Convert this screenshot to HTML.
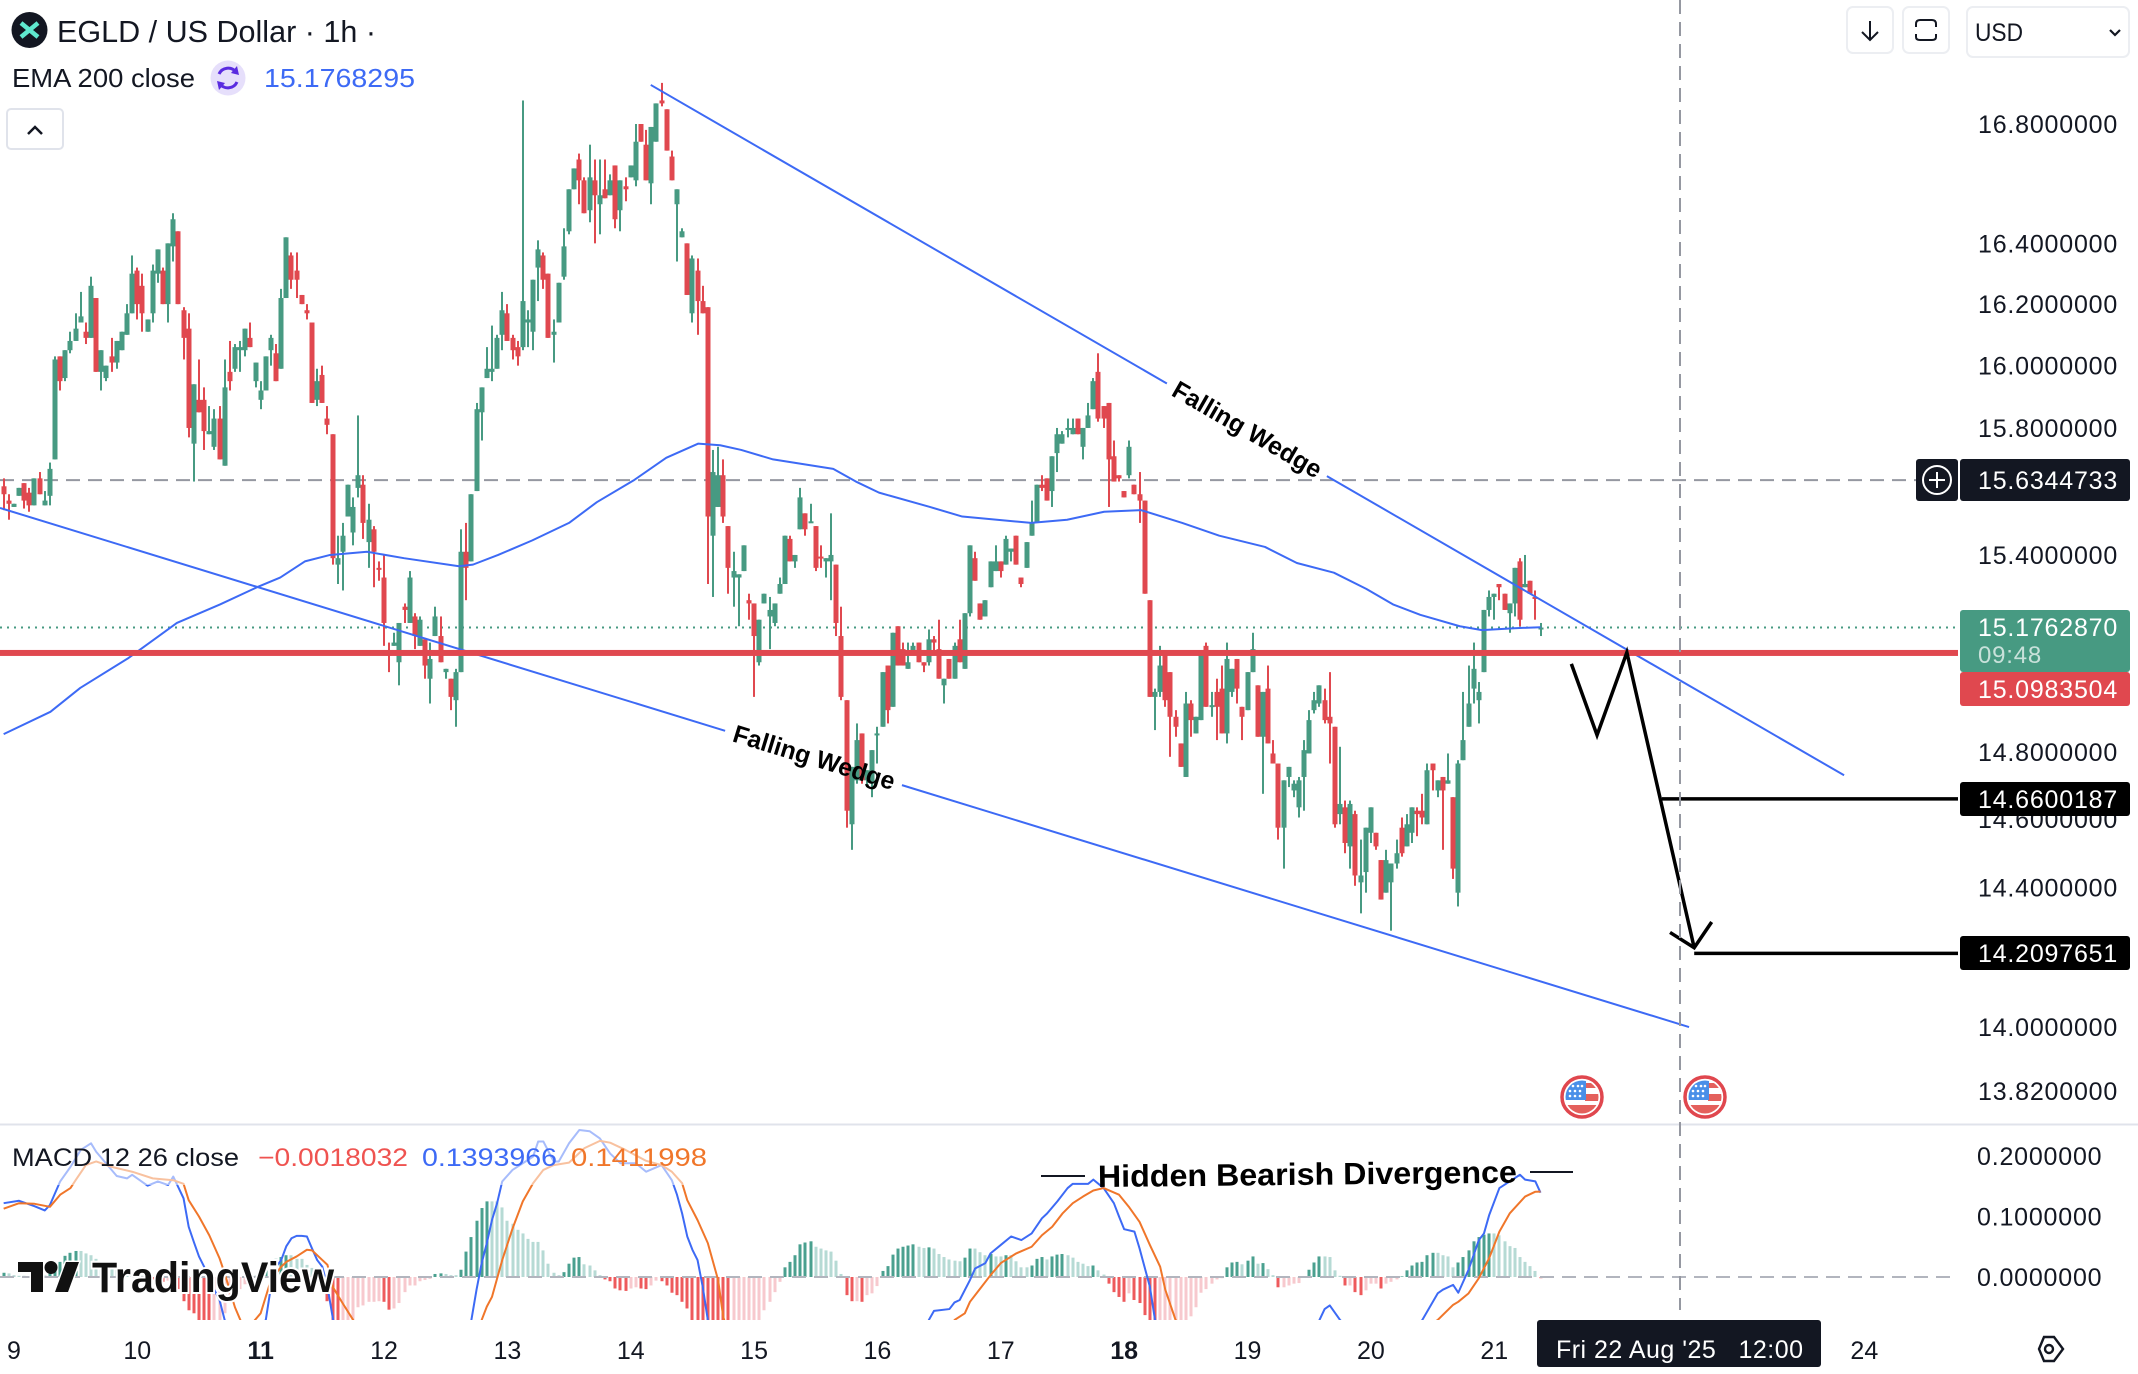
<!DOCTYPE html>
<html lang="en">
<head>
<meta charset="utf-8">
<title>EGLD / US Dollar 1h</title>
<style>
html,body{margin:0;padding:0;background:#fff;width:2138px;height:1374px;overflow:hidden}
svg{display:block;font-family:"Liberation Sans",Arial,sans-serif}
</style>
</head>
<body>
<svg id="chart" xmlns="http://www.w3.org/2000/svg" width="2138" height="1374" viewBox="0 0 2138 1374">
  <defs>
    <clipPath id="mainClip"><rect x="0" y="0" width="1958" height="1124"/></clipPath>
    <clipPath id="macdClip"><rect x="0" y="1126" width="1958" height="194"/></clipPath>
    <clipPath id="flagClip"><circle cx="0" cy="0" r="16.5"/></clipPath>
    <g id="flagIcon">
      <circle r="20" fill="#fff" stroke="#e0474e" stroke-width="3.5"/>
      <g clip-path="url(#flagClip)">
        <rect x="-17" y="-17" width="34" height="34" fill="#fff"/>
        <rect x="3" y="-14" width="14" height="5" fill="#e4605c"/>
        <rect x="3" y="-3" width="14" height="7" fill="#e4605c"/>
        <rect x="-17" y="8" width="34" height="10" fill="#e4605c"/>
        <rect x="-17" y="-17" width="21" height="20" fill="#4a8fe8"/>
        <g fill="#fff">
          <circle cx="-9" cy="-11" r="1.3"/><circle cx="-4" cy="-11" r="1.3"/><circle cx="0" cy="-11" r="1.3"/>
          <circle cx="-12" cy="-6" r="1.3"/><circle cx="-7" cy="-6" r="1.3"/><circle cx="-2" cy="-6" r="1.3"/>
          <circle cx="-12" cy="-1" r="1.3"/><circle cx="-7" cy="-1" r="1.3"/><circle cx="-2" cy="-1" r="1.3"/>
        </g>
      </g>
    </g>
  </defs>

  <rect x="0" y="0" width="2138" height="1374" fill="#fff"/>

  <g id="mainPane" clip-path="url(#mainClip)"></g>
  <g id="macdPane" clip-path="url(#macdClip)"></g>

  <line x1="0" y1="1124.5" x2="2138" y2="1124.5" stroke="#e0e3eb" stroke-width="2"/>
  <line x1="1680" y1="0" x2="1680" y2="1310" stroke="#9598a1" stroke-width="2" stroke-dasharray="14 8"/>

  <!-- Header -->
  <g>
    <circle cx="29.5" cy="30" r="18" fill="#131722"/>
    <path d="M21 23 L38 37 M38 23 L21 37" stroke="#5fe8cf" stroke-width="4.5" fill="none"/>
  </g>
  <text x="57" y="42" font-size="31" fill="#131722" textLength="319" lengthAdjust="spacingAndGlyphs">EGLD / US Dollar · 1h ·</text>
  <text x="12" y="87" font-size="26" fill="#131722" textLength="183" lengthAdjust="spacingAndGlyphs">EMA 200 close</text>
  <g>
    <circle cx="228" cy="78" r="17.5" fill="#e6dffb"/>
    <path d="M219 74 A10 10 0 0 1 236 72 M237 82 A10 10 0 0 1 220 84" stroke="#5a2be0" stroke-width="3" fill="none"/>
    <path d="M237 66 L239 75 L231 73 Z M219 90 L217 81 L225 83 Z" fill="#5a2be0"/>
  </g>
  <text x="264" y="87" font-size="26" fill="#3d6af5" textLength="151" lengthAdjust="spacingAndGlyphs">15.1768295</text>
  <g>
    <rect x="7" y="109" width="56" height="40" rx="4" fill="#fff" stroke="#e0e3eb" stroke-width="2"/>
    <path d="M28 134 L35 127 L42 134" fill="none" stroke="#131722" stroke-width="2.5"/>
  </g>

  <!-- Top-right controls -->
  <g>
    <rect x="1847" y="7" width="46" height="46" rx="6" fill="#fff" stroke="#eceef2" stroke-width="2"/>
    <path d="M1870 21 V40 M1862 32 L1870 40 L1878 32" fill="none" stroke="#131722" stroke-width="2"/>
  </g>
  <g>
    <rect x="1903" y="7" width="46" height="46" rx="6" fill="#fff" stroke="#eceef2" stroke-width="2"/>
    <path d="M1916 27 V24 Q1916 20 1920 20 H1932 Q1936 20 1936 24 V27 M1916 34 V37 Q1916 40 1920 40 H1932 Q1936 40 1936 37 V34" fill="none" stroke="#131722" stroke-width="2"/>
  </g>
  <g>
    <rect x="1967" y="7" width="162" height="50" rx="6" fill="#fff" stroke="#eceef2" stroke-width="2"/>
    <text x="1975" y="41" font-size="25" fill="#131722" textLength="48" lengthAdjust="spacingAndGlyphs">USD</text>
    <path d="M2110 30 L2115 35 L2120 30" fill="none" stroke="#131722" stroke-width="2.2"/>
  </g>

  <!-- Price axis + pills -->
  <g id="priceAxis"></g>
  <g id="pills"></g>

  <!-- Event flags -->
  <use href="#flagIcon" x="1582" y="1097"/>
  <use href="#flagIcon" x="1705" y="1097"/>

  <!-- MACD axis -->
  <g id="macdAxis"></g>

  <!-- Wash behind the MACD legend -->
  <rect x="0" y="1127" width="716" height="58" fill="#fff" fill-opacity="0.55"/>
  <text x="12" y="1166" font-size="25" fill="#131722" textLength="227" lengthAdjust="spacingAndGlyphs">MACD 12 26 close</text>
  <text x="258" y="1166" font-size="25" fill="#ef5350" textLength="150" lengthAdjust="spacingAndGlyphs">−0.0018032</text>
  <text x="422" y="1166" font-size="25" fill="#3d6af5" textLength="135" lengthAdjust="spacingAndGlyphs">0.1393966</text>
  <text x="571" y="1166" font-size="25" fill="#f0762a" textLength="136" lengthAdjust="spacingAndGlyphs">0.1411998</text>

  <!-- Divergence annotation -->
  <line x1="1041" y1="1176" x2="1085" y2="1176" stroke="#131722" stroke-width="2"/>
  <line x1="1530" y1="1172" x2="1573" y2="1172" stroke="#131722" stroke-width="2"/>
  <text transform="translate(1098 1187) rotate(-0.6)" font-size="31" font-weight="700" fill="#000" textLength="419" lengthAdjust="spacingAndGlyphs">Hidden Bearish Divergence</text>

  <!-- Watermark -->
  <g>
    <path d="M18 1262 H43 V1292 H31 V1272 H18 Z M66 1262 H79 L68 1292 H55 Z" fill="#111" stroke="#fff" stroke-width="3" paint-order="stroke"/>
    <circle cx="51" cy="1267.5" r="6.5" fill="#111"/>
    <text x="92" y="1292" font-size="43" font-weight="700" fill="#111" stroke="#fff" stroke-width="4" paint-order="stroke" textLength="242" lengthAdjust="spacingAndGlyphs">TradingView</text>
  </g>

  <!-- Time axis -->
  <g id="timeAxis"></g>
  <g>
    <rect x="1537" y="1320" width="284" height="47" rx="3" fill="#131722"/>
    <text x="1556" y="1358" font-size="25" fill="#fff" textLength="247" xml:space="preserve">Fri 22 Aug '25   12:00</text>
  </g>
  <g>
    <path d="M2039 1349 L2044 1337 H2054 L2063 1349 L2054 1361 H2044 Z" fill="none" stroke="#131722" stroke-width="2.4"/>
    <circle cx="2049" cy="1349" r="4" fill="none" stroke="#131722" stroke-width="2.4"/>
  </g>
</svg>

<script>
// ---- Candles (one per hour); index 0 is the leftmost bar on the chart ----
const opens = [
15.615,15.57,15.55,15.585,15.625,15.595,15.555,15.64,15.555,15.585,
15.70,16.03,15.96,16.05,16.08,16.14,16.11,16.09,16.22,15.98,
15.96,16.03,16.01,16.05,16.10,16.17,16.31,16.26,16.11,16.17,
16.30,16.31,16.20,16.39,16.44,16.18,16.12,15.75,15.89,15.89,
15.78,15.74,15.83,15.68,15.98,15.99,16.05,16.05,16.09,15.95,
15.89,15.92,16.05,16.04,15.99,16.22,16.36,16.31,16.23,16.18,
16.14,15.89,15.97,15.83,15.78,15.37,15.41,15.52,15.47,15.61,
15.62,15.44,15.48,15.36,15.33,15.10,15.12,15.07,15.24,15.19,
15.21,15.12,15.14,15.02,15.15,15.15,15.04,15.02,14.955,15.04,
15.41,15.38,15.60,15.85,15.96,15.98,15.99,16.10,16.17,16.09,
16.06,16.06,16.14,16.11,16.32,16.36,16.30,16.10,16.14,16.29,
16.44,16.58,16.68,16.61,16.51,16.61,16.53,16.58,16.56,16.66,
16.51,16.59,16.62,16.61,16.80,16.73,16.60,16.74,16.88,16.85,
16.69,16.53,16.42,16.40,16.17,16.31,16.21,16.19,15.46,15.55,
15.65,15.49,15.33,15.33,15.35,15.26,15.25,15.07,15.25,15.21,
15.19,15.28,15.31,15.45,15.38,15.48,15.53,15.50,15.49,15.395,
15.38,15.38,15.37,15.15,14.955,14.585,14.715,14.855,14.715,14.705,
14.85,14.875,15.06,14.935,15.18,15.11,15.05,15.10,15.13,15.07,
15.07,15.14,15.11,15.00,15.08,15.02,15.14,15.05,15.22,15.39,
15.25,15.21,15.30,15.35,15.38,15.37,15.41,15.46,15.33,15.36,
15.46,15.50,15.62,15.64,15.60,15.72,15.75,15.795,15.78,15.83,
15.74,15.80,15.86,15.98,15.87,15.88,15.71,15.65,15.60,15.65,
15.62,15.59,15.57,15.26,14.965,14.98,15.10,15.04,14.905,14.825,
14.725,14.945,14.855,14.895,15.12,14.935,14.98,14.99,14.855,14.98,
15.08,14.935,14.925,15.04,15.00,14.845,14.99,14.795,14.765,14.575,
14.725,14.685,14.635,14.725,14.795,14.925,14.945,14.955,14.905,14.875,
14.615,14.635,14.52,14.615,14.415,14.445,14.56,14.56,14.48,14.385,
14.415,14.47,14.575,14.52,14.56,14.625,14.625,14.585,14.765,14.685,
14.725,14.705,14.665,14.385,14.775,14.875,14.99,14.955,15.04,15.23,
15.27,15.31,15.28,15.22,15.25,15.38,15.30,15.32,15.27,15.175];
const highs = [
15.64,15.59,15.56,15.61,15.625,15.61,15.64,15.66,15.60,15.69,
16.03,16.03,16.05,16.11,16.17,16.24,16.14,16.29,16.22,16.05,
16.00,16.09,16.08,16.11,16.20,16.36,16.32,16.30,16.15,16.33,
16.38,16.32,16.40,16.50,16.44,16.19,16.17,15.94,16.02,15.93,
15.87,15.86,15.87,16.02,16.08,16.07,16.08,16.12,16.14,16.01,
15.95,16.03,16.10,16.07,16.25,16.42,16.37,16.37,16.23,16.20,
16.14,15.99,16.00,15.87,15.78,15.46,15.50,15.62,15.58,15.84,
15.65,15.56,15.49,15.38,15.40,15.13,15.16,15.19,15.25,15.35,
15.22,15.21,15.14,15.13,15.24,15.21,15.05,15.02,15.05,15.48,
15.50,15.59,15.88,15.93,16.06,16.13,16.10,16.24,16.20,16.10,
16.08,16.88,16.18,16.28,16.41,16.37,16.30,16.15,16.27,16.45,
16.58,16.65,16.70,16.62,16.73,16.68,16.68,16.68,16.63,16.66,
16.61,16.62,16.66,16.80,16.80,16.78,16.79,16.87,16.94,16.85,
16.71,16.58,16.45,16.40,16.36,16.35,16.26,16.19,15.73,15.74,
15.70,15.49,15.41,15.34,15.43,15.28,15.25,15.20,15.28,15.27,
15.25,15.33,15.46,15.46,15.40,15.61,15.53,15.56,15.49,15.43,
15.39,15.53,15.37,15.24,14.955,14.755,14.885,14.855,14.745,14.805,
14.875,15.04,15.06,15.16,15.18,15.13,15.13,15.13,15.13,15.07,
15.17,15.15,15.20,15.02,15.08,15.13,15.20,15.22,15.43,15.41,
15.25,15.26,15.38,15.43,15.38,15.46,15.42,15.46,15.33,15.44,
15.57,15.62,15.65,15.64,15.71,15.80,15.79,15.83,15.83,15.83,
15.80,15.88,15.96,16.04,15.87,15.88,15.76,15.65,15.60,15.76,
15.62,15.66,15.57,15.26,14.99,15.12,15.10,15.04,14.925,14.825,
14.98,14.955,14.905,15.10,15.13,14.98,15.02,15.06,15.13,15.05,
15.08,14.935,15.04,15.16,15.00,14.98,15.06,14.835,14.765,14.715,
14.755,14.715,14.725,14.835,14.925,14.98,15.00,14.99,15.04,14.875,
14.815,14.655,14.655,14.625,14.54,14.575,14.635,14.56,14.48,14.51,
14.47,14.54,14.605,14.615,14.635,14.635,14.675,14.765,14.765,14.715,
14.725,14.795,14.665,14.775,14.98,15.06,15.13,15.01,15.23,15.29,
15.28,15.31,15.28,15.25,15.36,15.39,15.40,15.32,15.29,15.19];
const lows = [
15.54,15.51,15.55,15.585,15.545,15.535,15.555,15.59,15.555,15.555,
15.70,15.92,15.95,16.04,16.08,16.14,16.07,16.09,15.98,15.92,
15.95,15.98,15.99,16.05,16.10,16.17,16.15,16.11,16.11,16.14,
16.27,16.20,16.14,16.34,16.20,16.02,15.77,15.63,15.85,15.73,
15.78,15.73,15.70,15.68,15.92,15.98,15.98,16.03,16.06,15.93,
15.86,15.92,16.00,15.95,15.99,16.22,16.25,16.22,16.20,16.15,
15.88,15.87,15.88,15.78,15.37,15.31,15.29,15.52,15.43,15.58,
15.45,15.36,15.30,15.32,15.12,15.04,15.12,15.00,15.19,15.19,
15.11,15.12,15.02,14.945,15.15,15.07,15.02,14.925,14.875,15.04,
15.26,15.38,15.60,15.76,15.96,15.95,15.99,16.05,16.08,16.02,
16.00,16.05,16.06,16.05,16.21,16.25,16.09,16.01,16.14,16.28,
16.43,16.58,16.53,16.50,16.47,16.40,16.43,16.55,16.56,16.45,
16.44,16.54,16.62,16.59,16.74,16.61,16.53,16.74,16.86,16.71,
16.61,16.34,16.42,16.23,16.14,16.10,16.17,15.31,15.27,15.55,
15.50,15.28,15.24,15.18,15.35,15.20,14.965,15.06,15.25,15.11,
15.18,15.28,15.31,15.38,15.36,15.48,15.46,15.50,15.35,15.36,
15.33,15.26,15.15,14.955,14.575,14.51,14.705,14.705,14.695,14.665,
14.765,14.875,14.885,14.935,15.06,15.06,15.05,15.10,15.07,15.04,
15.06,15.10,15.02,14.945,15.02,15.02,15.07,15.05,15.21,15.32,
15.20,15.21,15.30,15.35,15.33,15.37,15.38,15.37,15.30,15.36,
15.46,15.50,15.60,15.57,15.55,15.66,15.75,15.77,15.78,15.78,
15.70,15.80,15.86,15.82,15.80,15.55,15.63,15.63,15.58,15.64,
15.59,15.50,15.28,14.965,14.865,14.965,14.935,14.785,14.845,14.755,
14.725,14.845,14.855,14.895,14.935,14.905,14.835,14.855,14.825,14.965,
14.945,14.835,14.925,15.04,14.845,14.675,14.825,14.765,14.54,14.455,
14.695,14.665,14.605,14.625,14.795,14.915,14.935,14.885,14.765,14.575,
14.585,14.50,14.455,14.405,14.325,14.385,14.53,14.51,14.365,14.385,
14.275,14.455,14.49,14.52,14.53,14.55,14.585,14.585,14.685,14.665,
14.51,14.705,14.425,14.345,14.775,14.875,14.945,14.885,15.04,15.21,
15.20,15.26,15.23,15.16,15.21,15.18,15.30,15.28,15.20,15.15];
const closes = [
15.59,15.56,15.56,15.61,15.57,15.555,15.64,15.59,15.57,15.67,
16.02,15.95,16.05,16.08,16.12,16.16,16.09,16.26,15.98,16.05,
16.00,16.01,16.08,16.11,16.17,16.30,16.20,16.17,16.15,16.31,
16.38,16.20,16.40,16.48,16.20,16.09,15.80,15.94,15.85,15.79,
15.79,15.83,15.70,15.93,15.95,16.06,16.06,16.12,16.06,16.01,
15.92,16.03,16.09,15.95,16.22,16.42,16.28,16.28,16.20,16.17,
15.88,15.95,15.88,15.81,15.39,15.39,15.46,15.62,15.55,15.65,
15.50,15.51,15.41,15.355,15.19,15.09,15.13,15.19,15.23,15.33,
15.15,15.20,15.06,15.08,15.21,15.07,15.05,14.965,15.04,15.41,
15.36,15.59,15.86,15.93,15.99,15.99,16.09,16.18,16.08,16.05,
16.03,16.21,16.15,16.28,16.38,16.28,16.09,16.11,16.27,16.39,
16.58,16.65,16.61,16.50,16.62,16.56,16.56,16.55,16.61,16.48,
16.61,16.58,16.66,16.74,16.74,16.61,16.79,16.87,16.87,16.71,
16.61,16.58,16.44,16.23,16.35,16.21,16.17,15.52,15.66,15.65,
15.52,15.36,15.35,15.34,15.43,15.25,15.15,15.20,15.28,15.23,
15.25,15.31,15.46,15.38,15.40,15.58,15.48,15.505,15.36,15.39,
15.39,15.40,15.19,14.965,14.625,14.755,14.835,14.715,14.745,14.805,
14.855,15.04,14.925,15.16,15.06,15.06,15.07,15.12,15.07,15.06,
15.14,15.13,15.02,15.02,15.02,15.12,15.07,15.22,15.43,15.32,
15.20,15.26,15.38,15.38,15.35,15.45,15.42,15.37,15.31,15.44,
15.50,15.62,15.61,15.57,15.71,15.78,15.78,15.80,15.80,15.78,
15.80,15.84,15.95,15.83,15.83,15.70,15.63,15.64,15.58,15.74,
15.59,15.57,15.28,14.965,14.98,15.06,14.955,14.905,14.875,14.755,
14.945,14.895,14.905,15.10,14.935,14.94,14.935,14.855,15.08,15.05,
14.99,14.905,15.04,15.11,14.845,14.98,14.825,14.765,14.575,14.715,
14.755,14.705,14.715,14.805,14.895,14.955,15.00,14.895,14.885,14.585,
14.645,14.53,14.645,14.435,14.435,14.575,14.635,14.52,14.365,14.48,
14.47,14.50,14.50,14.585,14.635,14.615,14.605,14.745,14.745,14.715,
14.685,14.715,14.455,14.765,14.835,14.945,15.05,14.98,15.23,15.27,
15.28,15.30,15.23,15.25,15.36,15.20,15.31,15.28,15.265,15.176];

// ---- EMA 200 sampled at these bar indices ----
const emaHours = [0,9.1,14.9,24.3,33.7,42.1,49.3,53.8,58.6,63.5,70.7,77.9,88.6,91.3,96.2,102.8,110,115.4,122.6,128.9,135.1,139.4,143.5,149.7,161.4,165.8,170.3,180.2,186.5,199.9,206.9,214.1,221.3,229.3,236.5,245.4,251.6,258.8,265.1,270.3,275.6,283.3,287.6,293.9,299];
const emaValues = [14.853,14.92,14.992,15.083,15.19,15.247,15.30,15.33,15.38,15.40,15.41,15.39,15.365,15.37,15.40,15.445,15.50,15.565,15.634,15.705,15.75,15.745,15.73,15.70,15.67,15.63,15.595,15.55,15.52,15.50,15.51,15.535,15.54,15.50,15.46,15.425,15.375,15.345,15.295,15.247,15.215,15.18,15.168,15.174,15.177];

// ---- MACD histogram, one per bar ----
const macdHist = [
.007,.006,.003,.002,.002,.001,-.001,-.002,.002,.006,
.014,.025,.035,.04,.043,.043,.039,.036,.03,.025,
.02,.016,.012,.01,.008,.005,.004,.002,-.001,-.004,
-.006,-.008,-.006,-.01,-.02,-.04,-.055,-.06,-.075,-.08,
-.085,-.085,-.085,-.06,-.04,-.03,-.02,-.012,-.005,.002,
.01,.018,.025,.03,.033,.036,.036,.03,.03,.02,
.015,.01,.004,-.04,-.08,-.095,-.09,-.085,-.075,-.05,
-.047,-.041,-.041,-.04,-.041,-.054,-.052,-.043,-.025,-.014,
-.014,-.007,-.005,-.003,.005,.006,.005,.003,.003,.012,
.042,.066,.093,.114,.125,.125,.125,.115,.093,.088,
.078,.072,.063,.058,.058,.044,.022,.007,.003,.008,
.022,.032,.033,.021,.019,.011,.003,-.004,-.007,-.019,
-.022,-.023,-.019,-.017,-.019,-.02,-.014,-.006,-.007,-.014,
-.026,-.03,-.041,-.052,-.08,-.09,-.1,-.11,-.12,-.13,
-.14,-.15,-.15,-.14,-.13,-.12,-.11,-.1,-.055,-.041,
-.025,-.008,.016,.025,.036,.054,.057,.059,.05,.047,
.044,.042,.027,.005,-.03,-.04,-.04,-.041,-.03,-.027,
-.015,.01,.018,.037,.047,.05,.052,.054,.05,.048,
.049,.047,.038,.033,.029,.027,.026,.032,.047,.047,
.041,.036,.038,.034,.034,.036,.036,.026,.016,.016,
.019,.03,.033,.029,.034,.037,.038,.036,.032,.025,
.022,.018,.019,.011,.004,-.011,-.025,-.033,-.041,-.027,
-.038,-.043,-.063,-.09,-.1,-.1,-.1,-.095,-.09,-.085,
-.08,-.065,-.05,-.026,-.02,-.011,-.004,-.002,.016,.024,
.025,.021,.027,.034,.022,.023,.013,.003,-.017,-.017,
-.014,-.011,-.01,.001,.012,.024,.034,.034,.033,.011,
.002,-.014,-.014,-.025,-.03,-.022,-.011,-.011,-.019,-.011,
-.008,-.004,.001,.011,.019,.024,.025,.036,.04,.04,
.036,.034,.016,.024,.033,.044,.059,.066,.07,.072,
.072,.069,.059,.051,.048,.033,.025,.018,.01,-.002];

// ---- MACD line ----
const macdHours = [0,3,6,8,9,11,13,15,17,18,22,24,25,28,30,32,33,35,36,37,38,39,40,42,43,45,50,51,52,53,54,55,56,57,58,59,60,61,62,63,64,65,70,85,90,91,92,93,94,95,96,97,99,101,103,104,105,107,108,110,112,114,116,118,120,123,125,128,130,131,132,133,134,135,136,137,140,178,180,181,184,185,186,188,189,191,192,194,196,198,200,202,203,205,207,208,211,212,214,216,217,218,220,221,223,224,240,254,256,257,258,260,270,276,279,280,282,283,285,287,288,289,291,293,295,296,298,299];
const macdValues = [.122,.126,.117,.11,.119,.158,.182,.21,.221,.207,.167,.163,.169,.151,.158,.152,.166,.13,.083,.058,.034,.017,-.005,-.038,-.071,-.1,-.08,-.071,-.016,.017,.028,.051,.064,.068,.068,.067,.047,.028,.017,-.016,-.066,-.115,-.2,-.2,-.126,-.071,-.021,.023,.056,.094,.122,.158,.177,.188,.199,.224,.224,.191,.191,.221,.243,.241,.229,.204,.188,.188,.174,.185,.16,.136,.105,.067,.045,.028,-.016,-.071,-.15,-.15,-.071,-.056,-.053,-.042,-.038,-.005,.014,.023,.039,.053,.067,.061,.072,.097,.105,.125,.147,.154,.154,.161,.147,.122,.1,.079,.075,.047,-.016,-.071,-.2,-.1,-.071,-.053,-.047,-.071,-.15,-.071,-.027,-.021,-.013,-.026,.012,.061,.072,.102,.147,.158,.169,.161,.158,.1394];

// ---- Signal line ----
const signalHours = [0,3,6,9,11,13,14,16,18,21,25,29,33,35,36,38,40,42,43,45,47,50,52,54,55,57,59,60,62,63,64,66,68,70,90,93,94,95,97,99,101,103,105,107,110,113,116,118,121,125,128,130,132,133,135,137,139,140,142,183,185,187,188,190,192,194,197,200,202,204,206,208,210,212,214,217,219,221,223,225,226,228,240,270,279,282,283,285,287,289,291,293,296,298,299];
const signalValues = [.113,.122,.121,.116,.136,.147,.16,.185,.191,.182,.174,.163,.16,.154,.127,.1,.069,.031,.006,-.05,-.09,-.06,-.005,.017,.025,.034,.045,.044,.028,.02,-.016,-.044,-.071,-.12,-.2,-.071,-.049,-.033,.028,.08,.125,.155,.177,.185,.189,.213,.225,.222,.21,.192,.185,.174,.155,.127,.094,.056,-.005,-.066,-.12,-.12,-.071,-.06,-.041,-.019,.003,.023,.039,.05,.069,.083,.105,.122,.133,.143,.147,.136,.115,.091,.053,.017,-.021,-.071,-.15,-.12,-.071,-.046,-.041,-.027,-.002,.031,.075,.105,.133,.141,.1412];

// ---- Axis ticks ----
const priceTicks = [16.8,16.4,16.2,16.0,15.8,15.4,14.8,14.6,14.4,14.0,13.82];
const macdTicks = [0.2,0.1,0.0];
const dayLabels = ['9','10','11','12','13','14','15','16','17','18','19','20','21','24'];
const dayHours = [2,26,50,74,98,122,146,170,194,218,242,266,290,362];
const dayBold = ['11','18'];

// ---- Levels and drawings (bar index / price) ----
const currentPrice = 15.176287;
const resistancePrice = 15.0983504;
const crosshairPrice = 15.6344733;
const target1Price = 14.6600187;
const target2Price = 14.2097651;
const target1Hour = 322.6;
const target2Hour = 328.9;
const upperWedgeHours = [125.9,358.06];
const upperWedgePrices = [16.933,14.73];
const lowerWedgeHours = [-0.71,327.9];
const lowerWedgePrices = [15.547,14.0];
const pathHours = [305.0,310.0,315.8,328.9];
const pathPrices = [15.065,14.85,15.10,14.226];
const headHours = [324.2,328.9,332.3];
const headPrices = [14.27,14.226,14.30];

// ---- Axis functions ----
function priceY(p){ return 124 + 4953 * Math.log(16.8 / p); }
function hourX(i){ return 3.65 + 5.14 * i; }
function macdY(v){ return 1277 - 605 * v; }

const NS = 'http://www.w3.org/2000/svg';
function make(tag, attrs, parent){
  const e = document.createElementNS(NS, tag);
  for (const k in attrs) e.setAttribute(k, attrs[k]);
  parent.appendChild(e);
  return e;
}
const main = document.getElementById('mainPane');
const macd = document.getElementById('macdPane');
const GREEN = '#479a82', RED = '#e0484f', BLUE = '#3d6af5', ORANGE = '#f0762a';

// Horizontal levels
let el = make('line', {x1:0,x2:1958,y1:priceY(currentPrice),y2:priceY(currentPrice),stroke:GREEN,'stroke-width':2,'stroke-dasharray':'2 5'}, main);


el = make('line', {x1:0,x2:1917,y1:priceY(crosshairPrice),y2:priceY(crosshairPrice),stroke:'#9598a1',fill:'none','stroke-width':2,'stroke-dasharray':'14 8'}, main);



// Candles
for (let i = 0; i < closes.length; i++) {
  const up = closes[i] >= opens[i];
  const col = up ? GREEN : RED;
  const x = Math.round(hourX(i));
  const g = make('g', {fill:col}, main);
  
  
  const yH = priceY(highs[i]), yL = priceY(lows[i]);
  make('rect', {x:x-1,y:yH,width:2,height:Math.max(1,yL-yH)}, g);
  const yT = priceY(Math.max(opens[i],closes[i])), yB = priceY(Math.min(opens[i],closes[i]));
  make('rect', {x:x-2.5,y:yT,width:5,height:Math.max(2,yB-yT)}, g);
}

// EMA line
el = make('polyline', {points:emaHours.map((h,k)=>hourX(h)+','+priceY(emaValues[k])).join(' '),fill:'none',stroke:BLUE,'stroke-width':2,'stroke-linejoin':'round'}, main);



// Wedge lines (with a gap where the label sits)
function wedge(hours, prices, t1, t2, name, label, cx, cy, ang, len){
  const x0=hourX(hours[0]), y0=priceY(prices[0]), x1=hourX(hours[1]), y1=priceY(prices[1]);
  const a = make('line', {x1:x0,y1:y0,x2:x0+(x1-x0)*t1,y2:y0+(y1-y0)*t1,stroke:BLUE,'stroke-width':2}, main);
  
  
  const b = make('line', {x1:x0+(x1-x0)*t2,y1:y0+(y1-y0)*t2,x2:x1,y2:y1,stroke:BLUE,'stroke-width':2}, main);
  
  
  const t = make('text', {transform:'translate('+cx+' '+cy+') rotate('+ang+')','text-anchor':'middle',y:8,'font-size':25,'font-weight':700,fill:'#000',textLength:len,lengthAdjust:'spacingAndGlyphs'}, main);
  
  
  t.textContent = label;
}
wedge(upperWedgeHours, upperWedgePrices, .4325, .5666, 'upper-wedge', 'Falling Wedge', 1247, 430, 30, 168);
wedge(lowerWedgeHours, lowerWedgePrices, .4293, .534, 'lower-wedge', 'Falling Wedge', 814, 758, 17, 168);

// Resistance level
el = make('rect', {x:0,y:priceY(resistancePrice)-3,width:1958,height:6,fill:RED}, main);



// Projected path
el = make('polyline', {points:pathHours.map((h,k)=>hourX(h)+','+priceY(pathPrices[k])).join(' '),fill:'none',stroke:'#000','stroke-width':3.5}, main);


el = make('polyline', {points:headHours.map((h,k)=>hourX(h)+','+priceY(headPrices[k])).join(' '),fill:'none',stroke:'#000','stroke-width':3.5}, main);


el = make('line', {x1:hourX(target1Hour),x2:1958,y1:priceY(target1Price),y2:priceY(target1Price),stroke:'#000','stroke-width':3.5}, main);


el = make('line', {x1:hourX(target2Hour),x2:1958,y1:priceY(target2Price),y2:priceY(target2Price),stroke:'#000','stroke-width':3.5}, main);



// Price axis labels
const priceAxis = document.getElementById('priceAxis');
priceTicks.forEach(p => {
  const t = make('text', {x:1978,y:priceY(p)+9,'font-size':25,'letter-spacing':.8,fill:'#131722'}, priceAxis);
  
  
  t.textContent = p.toFixed(7);
});

// Price pills
const pills = document.getElementById('pills');
function pill(value, top, h, fill, name){
  const g = make('g', {}, pills);
  
  
  make('rect', {x:1960,y:top,width:170,height:h,rx:3,fill:fill}, g);
  const t = make('text', {x:1978,y:top+26,'font-size':25,'letter-spacing':.8,fill:'#fff'}, g);
  t.textContent = value;
  return g;
}
const crossPill = pill(crosshairPrice.toFixed(7), 459, 42, '#131722', 'crosshair-price-label');
crossPill.querySelector('text').setAttribute('y', 489);
const plus = make('g', {}, crossPill);
make('rect', {x:1916,y:459,width:42,height:42,rx:3,fill:'#131722'}, plus);
make('circle', {cx:1937,cy:480,r:14,fill:'none',stroke:'#fff','stroke-width':2}, plus);
make('path', {d:'M1929 480 H1945 M1937 472 V488',stroke:'#fff','stroke-width':2,fill:'none'}, plus);
const lastPill = pill('15.1762870', 610, 62, GREEN, 'last-price-label');
const cd = make('text', {x:1978,y:663,'font-size':24,'letter-spacing':.8,fill:'#fff','fill-opacity':.7}, lastPill);
cd.textContent = '09:48';
pill(resistancePrice.toFixed(7), 672, 34, RED, 'resistance-price-label');
pill(target1Price.toFixed(7), 782, 34, '#000', 'target-1-price-label');
pill(target2Price.toFixed(7), 936, 34, '#000', 'target-2-price-label');

// MACD histogram
for (let i = 0; i < macdHist.length; i++) {
  const v = macdHist[i], prev = i ? macdHist[i-1] : 0;
  const col = v >= 0 ? (v > prev ? '#4aa08f' : '#b6dad4') : (v < prev ? '#ee5a5c' : '#f7c9ce');
  const y0 = macdY(0), y1 = macdY(v);
  const b = make('rect', {x:Math.round(hourX(i))-1.5,y:Math.min(y0,y1),width:3,height:Math.abs(y1-y0),fill:col}, macd);
  
  
}
// Zero line
el = make('line', {x1:0,x2:1958,y1:macdY(0),y2:macdY(0),stroke:'#b2b5be','stroke-width':2,'stroke-dasharray':'14 8'}, macd);


// MACD + signal lines
el = make('polyline', {points:macdHours.map((h,k)=>hourX(h)+','+macdY(macdValues[k])).join(' '),fill:'none',stroke:BLUE,'stroke-width':2,'stroke-linejoin':'round'}, macd);


el = make('polyline', {points:signalHours.map((h,k)=>hourX(h)+','+macdY(signalValues[k])).join(' '),fill:'none',stroke:ORANGE,'stroke-width':2,'stroke-linejoin':'round'}, macd);



// MACD axis labels
const macdAxis = document.getElementById('macdAxis');
macdTicks.forEach(v => {
  const t = make('text', {x:1977,y:macdY(v)+9,'font-size':25,'letter-spacing':.8,fill:'#131722'}, macdAxis);
  
  
  t.textContent = v.toFixed(7);
});

// Time axis labels
const timeAxis = document.getElementById('timeAxis');
dayLabels.forEach((d,k) => {
  const t = make('text', {x:hourX(dayHours[k]),y:1359,'text-anchor':'middle','font-size':25,fill:'#131722','font-weight':dayBold.includes(d)?700:400}, timeAxis);
  
  
  t.textContent = d;
});
</script>
</body>
</html>
